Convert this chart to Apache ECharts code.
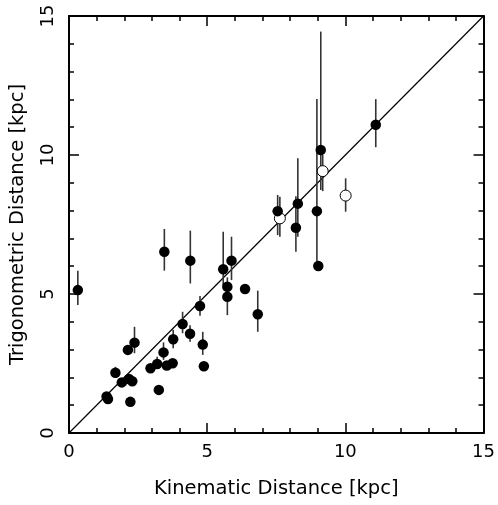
<!DOCTYPE html>
<html>
<head>
<meta charset="utf-8">
<script src="https://cdn.jsdelivr.net/npm/echarts@6/dist/echarts.min.js"></script>
<style>
html,body{margin:0;padding:0;background:#fff;}
#chart{width:498px;height:505px;}
</style>
</head>
<body>
<div id="chart"></div>
<script>
// Filled circles (kinematic x, trigonometric y, error low/high)
var kinX  = [0.32, 1.36, 1.41, 1.68, 1.91, 2.13, 2.17, 2.22, 2.29, 2.37, 2.95, 3.19, 3.25, 3.42, 3.45, 3.54, 3.75, 3.77, 4.11, 4.38, 4.39, 4.74, 4.84, 4.88, 5.58, 5.73, 5.73, 5.88, 6.37, 6.83, 7.55, 8.21, 8.28, 8.97, 9.02, 9.11, 11.1];
var trigY = [5.14, 1.31, 1.22, 2.17, 1.82, 2.99, 1.94, 1.12, 1.86, 3.25, 2.33, 2.48, 1.55, 2.90, 6.52, 2.43, 2.51, 3.37, 3.92, 3.57, 6.20, 4.57, 3.18, 2.40, 5.89, 5.26, 4.90, 6.20, 5.18, 4.27, 7.98, 7.38, 8.25, 7.98, 6.01, 10.18, 11.09];
var errLo = [4.60, null, null, 2.00, null, null, null, null, null, 2.87, null, 2.30, null, 2.63, 5.84, null, null, 3.05, 3.59, 3.28, 5.38, 4.22, 2.81, null, 5.30, 4.95, 4.24, 5.50, null, 3.64, 7.12, 6.52, 7.06, 6.00, null, 8.74, 10.28];
var errHi = [5.84, null, null, 2.38, null, null, null, null, null, 3.82, null, 2.74, null, 3.26, 7.34, null, null, 3.71, 4.36, 3.88, 7.28, 4.93, 3.64, null, 7.24, 5.60, 5.20, 7.06, null, 5.12, 8.56, 8.52, 9.88, 12.01, null, 14.44, 12.01];
// Open circles
var openX  = [7.63, 9.18, 10.01];
var openY  = [7.72, 9.42, 8.54];
var openLo = [7.06, 8.70, 7.96];
var openHi = [8.50, 10.00, 9.16];
// Axis ticks
var axisMin = 0, axisMax = 15, axisStep = 5;
var xTitle = 'Kinematic Distance [kpc]';
var yTitle = 'Trigonometric Distance [kpc]';

var FONT = 'DejaVu Sans';
var filled = kinX.map(function(x, i){ return [x, trigY[i]]; });
var open = openX.map(function(x, i){ return [x, openY[i]]; });
var bars = [];
kinX.forEach(function(x, i){ if (errLo[i] != null) bars.push([x, errLo[i], errHi[i]]); });
openX.forEach(function(x, i){ bars.push([x, openLo[i], openHi[i]]); });

function mkAxis(pos, showLabel, name) {
  return {
    type: 'value', position: pos, min: axisMin, max: axisMax, interval: axisStep,
    splitLine: {show: false},
    axisLine: {show: true, onZero: false, lineStyle: {color: '#000', width: 2}},
    axisTick: {show: true, inside: true, length: 10, lineStyle: {color: '#000', width: 1.5}},
    minorTick: {show: true, splitNumber: 5, length: 5, lineStyle: {color: '#000', width: 1.5}},
    axisLabel: {show: showLabel, color: '#000', fontSize: 18, fontFamily: FONT, margin: 10},
    name: name || '', nameLocation: 'middle',
    nameTextStyle: {color: '#000', fontSize: 19.5, fontFamily: FONT}
  };
}
var xb = mkAxis('bottom', true, xTitle); xb.nameGap = 46;
var xt = mkAxis('top', false);
var yl = mkAxis('left', true, yTitle); yl.nameGap = 41; yl.axisLabel.rotate = 90; yl.axisLabel.margin = 12;
var yr = mkAxis('right', false);

var chart = echarts.init(document.getElementById('chart'), null, {renderer: 'canvas'});
chart.setOption({
  animation: false,
  backgroundColor: '#fff',
  grid: {left: 69, top: 16, width: 417, height: 417, containLabel: false},
  xAxis: [xb, xt],
  yAxis: [yl, yr],
  series: [
    {
      type: 'line', data: [[axisMin, axisMin], [axisMax, axisMax]], symbol: 'none',
      lineStyle: {color: '#000', width: 1.2}, z: 1, silent: true
    },
    {
      type: 'custom', data: bars, z: 2, silent: true,
      renderItem: function(params, api){
        var a = api.coord([api.value(0), api.value(1)]);
        var b = api.coord([api.value(0), api.value(2)]);
        return {type: 'line', shape: {x1: a[0], y1: a[1], x2: b[0], y2: b[1]},
                style: {stroke: '#333', lineWidth: 1.6}};
      },
      encode: {x: 0, y: [1, 2]}
    },
    {
      type: 'scatter', data: open, symbol: 'circle', symbolSize: 11, z: 3,
      itemStyle: {color: '#fff', borderColor: '#000', borderWidth: 1, opacity: 1}
    },
    {
      type: 'scatter', data: filled, symbol: 'circle', symbolSize: 10.5, z: 4,
      itemStyle: {color: '#000', opacity: 1}
    }
  ]
});
</script>
</body>
</html>
